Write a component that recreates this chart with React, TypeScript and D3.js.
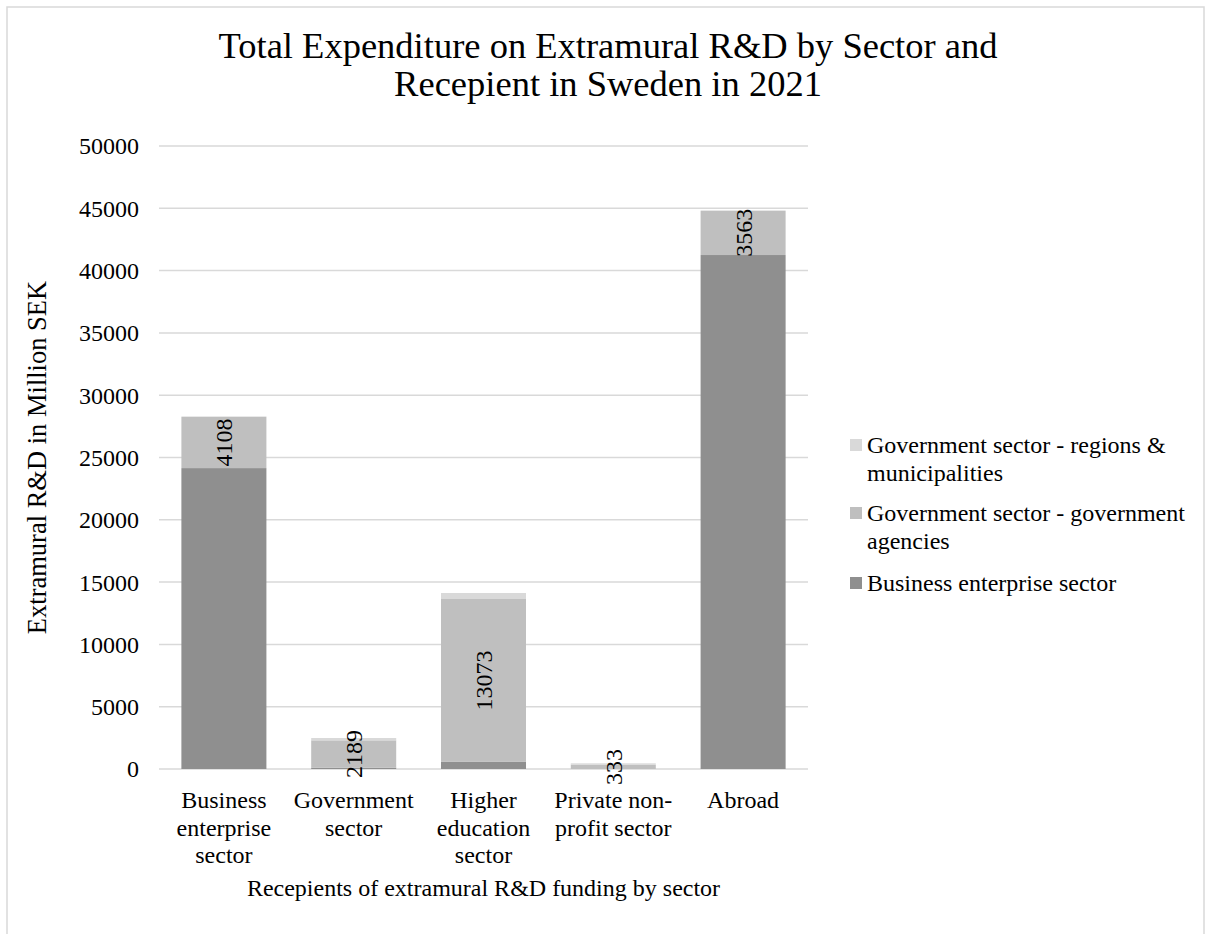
import React from "react";
import * as d3 from "d3";

const categories = [
  "Business enterprise sector",
  "Government sector",
  "Higher education sector",
  "Private non-profit sector",
  "Abroad",
];
const categoryLines = [
  ["Business", "enterprise", "sector"],
  ["Government", "sector"],
  ["Higher", "education", "sector"],
  ["Private non-", "profit sector"],
  ["Abroad"],
];
const businessValues = [24150, 110, 570, 0, 41250];
const agencyValues = [4108, 2189, 13073, 333, 3563];
const regionValues = [40, 190, 480, 120, 0];
const yTicks = [0, 5000, 10000, 15000, 20000, 25000, 30000, 35000, 40000, 45000, 50000];

const seriesColors = ["#8f8f8f", "#bfbfbf", "#d9d9d9"];
const legendEntries = [
  { lines: ["Government sector - regions &", "municipalities"], color: "#d9d9d9" },
  { lines: ["Government sector - government", "agencies"], color: "#bfbfbf" },
  { lines: ["Business enterprise sector"], color: "#8f8f8f" },
];

const FONT = "'Liberation Serif', 'Times New Roman', serif";

export default function App() {
  const W = 1205;
  const H = 934;
  const left = 159;
  const right = 808;
  const top = 146;
  const bottom = 769;

  const x = d3
    .scaleBand<string>()
    .domain(categories)
    .range([left, right])
    .paddingInner(0.345)
    .paddingOuter(0.1725);
  const y = d3.scaleLinear().domain([0, 50000]).range([bottom, top]);

  const rows = categories.map((c, i) => ({
    cat: c,
    business: businessValues[i],
    agencies: agencyValues[i],
    regions: regionValues[i],
  }));
  const stack = d3.stack<any>().keys(["business", "agencies", "regions"]);
  const stacked = stack(rows);

  return (
    <svg
      width={W}
      height={H}
      style={{ position: "absolute", left: 0, top: 0, background: "#fff" }}
      fontFamily={FONT}
    >
      <rect x={7} y={7} width={1197} height={1000} fill="#fff" stroke="#d9d9d9" strokeWidth={1.5} />
      <text x={608} y={58} textAnchor="middle" fontSize={36.5} fill="#000">
        Total Expenditure on Extramural R&amp;D by Sector and
      </text>
      <text x={608} y={96} textAnchor="middle" fontSize={36.5} fill="#000">
        Recepient in Sweden in 2021
      </text>

      {yTicks.map((t) => (
        <g key={t}>
          <line x1={left} x2={right} y1={y(t)} y2={y(t)} stroke="#d9d9d9" strokeWidth={1.5} />
          <text x={139} y={y(t)} dy="0.35em" textAnchor="end" fontSize={24} fill="#000">
            {t}
          </text>
        </g>
      ))}

      {stacked.map((s, si) => (
        <g key={s.key} fill={seriesColors[si]}>
          {s.map((d, i) => {
            const h = y(d[0]) - y(d[1]);
            if (h <= 0) return null;
            return (
              <rect
                key={i}
                x={x(categories[i])}
                y={y(d[1])}
                width={x.bandwidth()}
                height={h}
              />
            );
          })}
        </g>
      ))}

      {stacked[1].map((d, i) => {
        const cx = (x(categories[i]) as number) + x.bandwidth() / 2;
        const cy = y((d[0] + d[1]) / 2);
        return (
          <text
            key={i}
            transform={`translate(${cx},${cy}) rotate(-90)`}
            textAnchor="middle"
            dy="0.35em"
            fontSize={24}
            fill="#000"
          >
            {agencyValues[i]}
          </text>
        );
      })}

      {categoryLines.map((lines, i) => {
        const cx = (x(categories[i]) as number) + x.bandwidth() / 2;
        return lines.map((ln, j) => (
          <text key={i + "-" + j} x={cx} y={808 + j * 27.5} textAnchor="middle" fontSize={24} fill="#000">
            {ln}
          </text>
        ));
      })}

      <text x={(left + right) / 2} y={896} textAnchor="middle" fontSize={24} fill="#000">
        Recepients of extramural R&amp;D funding by sector
      </text>
      <text
        transform={`translate(46,${(top + bottom) / 2}) rotate(-90)`}
        textAnchor="middle"
        fontSize={26.5}
        fill="#000"
      >
        Extramural R&amp;D in Million SEK
      </text>

      {legendEntries.map((e, i) => {
        const baseY = [453, 521, 591][i];
        return (
          <g key={i}>
            <rect x={850} y={baseY - 14} width={12} height={12} fill={e.color} />
            {e.lines.map((ln, j) => (
              <text key={j} x={867} y={baseY + j * 27.5} fontSize={24} fill="#000">
                {ln}
              </text>
            ))}
          </g>
        );
      })}
    </svg>
  );
}
